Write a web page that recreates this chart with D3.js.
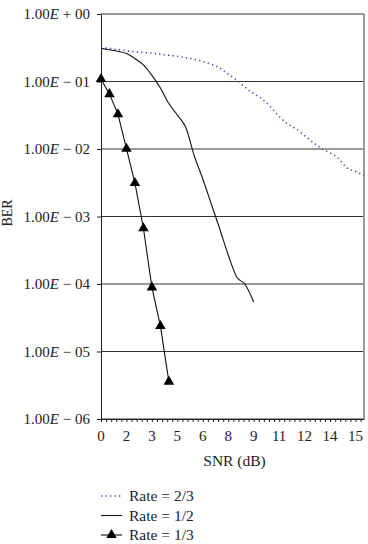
<!DOCTYPE html>
<html>
<head>
<meta charset="utf-8">
<script src="https://cdn.jsdelivr.net/npm/d3@7"></script>
<style>
  body { margin:0; background:#fff; }
  text { font-family:"Liberation Serif", "DejaVu Serif", serif; fill:#222; }
</style>
</head>
<body>
<div id="berContainer"></div>
<script>

// --------- data
var rate23Snr = [0,1,2,3,4,5,6,7,7.5,8,8.5,9,9.5,10,10.5,11,11.5,12,12.5,13,13.5,14,14.5,15,15.5];
var rate23Ber = [0.319,0.298,0.275,0.263,0.245,0.225,0.198,0.158,0.129,0.105,0.0815,0.0664,0.0551,0.0419,
                 0.0303,0.0235,0.0198,0.0158,0.0125,0.0102,0.00873,0.00723,0.00523,0.00464,0.00405];

var rate12Snr = [0,0.5,1,1.5,2,2.5,3,3.5,4,4.5,5,5.5,6,6.5,7,7.5,8,8.5,9];
var rate12Ber = [0.31,0.295,0.28,0.26,0.219,0.176,0.123,0.08,0.0472,0.0319,0.0208,0.00787,0.0036,
                 0.00153,6.53e-4,2.69e-4,1.27e-4,9.85e-5,5.41e-5];

var rate13Snr = [0,0.5,1,1.5,2,2.5,3,3.5,4];
var rate13Ber = [0.109,0.065,0.0327,0.0101,0.00313,6.7e-4,8.9e-5,2.39e-5,3.57e-6];

var yTickValues = [1,1e-1,1e-2,1e-3,1e-4,1e-5,1e-6];
var yTickLabels = ["1.00E + 00","1.00E \u2212 01","1.00E \u2212 02","1.00E \u2212 03",
                   "1.00E \u2212 04","1.00E \u2212 05","1.00E \u2212 06"];
var xTickValues = [0,1.5,3,4.5,6,7.5,9,10.5,12,13.5,15];
var xTickLabels = ["0","2","3","5","6","8","9","11","12","14","15"];

var legendLabels = ["Rate = 2/3","Rate = 1/2","Rate = 1/3"];

var margin = { left:101, right:4, top:14, bottom:125 };
var w = 368 - margin.left - margin.right;
var h = 544 - margin.top - margin.bottom;

var svg = d3.select("#berContainer")
            .append("svg")
            .attr("width", w + margin.left + margin.right)
            .attr("height", h + margin.top + margin.bottom);

var g = svg.append("g")
            .attr("transform", "translate(" + margin.left + "," + margin.top + ")");

var xScale = d3.scaleLinear()
    .domain([0, 15.5])
    .range([0, w]);

var yScale = d3.scaleLog()
    .domain([1e-6, 1])
    .range([h, 0]);

// --------- grid lines
g.selectAll(".grid")
    .data(yTickValues)
    .enter().append("line")
    .attr("class","grid")
    .attr("x1", 0)
    .attr("x2", w)
    .attr("y1", function(d) { return yScale(d); })
    .attr("y2", function(d) { return yScale(d); })
    .attr("stroke","#333")
    .attr("stroke-width",1);

// right border
g.append("line")
    .attr("x1", w).attr("x2", w)
    .attr("y1", 0).attr("y2", h)
    .attr("stroke","#999")
    .attr("stroke-width",2);

// --------- Y axis
var yAxis = d3.axisLeft(yScale)
    .tickValues(yTickValues)
    .tickSize(4)
    .tickSizeOuter(0)
    .tickFormat("");

var yAxisGroup = g.append("g").attr("class","y axis").call(yAxis);
yAxisGroup.select(".domain").attr("stroke","#222");
yAxisGroup.selectAll(".tick line").attr("stroke","#222");

yAxisGroup.selectAll(".tick").each(function(d, i) {
    var parts = yTickLabels[i].split("E");
    var t = d3.select(this).append("text")
        .attr("x", -11)
        .attr("dy", "0.32em")
        .attr("text-anchor","end")
        .attr("font-size", 15)
        .style("fill","#222")
        .style("white-space","pre");
    t.append("tspan").text(parts[0]);
    t.append("tspan").attr("font-style","italic").text("E");
    t.append("tspan").text(parts[1]);
});

// --------- X axis
var xMinor = d3.range(0, 15.45, 0.3);

var xAxis = d3.axisBottom(xScale)
    .tickValues(xMinor)
    .tickSize(3)
    .tickSizeOuter(0)
    .tickFormat("");

var xAxisGroup = g.append("g")
    .attr("class","x axis")
    .attr("transform","translate(0," + h + ")")
    .call(xAxis);
xAxisGroup.select(".domain").attr("stroke","#222");
xAxisGroup.selectAll(".tick line").attr("stroke","#222");

xAxisGroup.selectAll(".xlabel")
    .data(xTickValues)
    .enter().append("text")
    .attr("class","xlabel")
    .attr("x", function(d) { return xScale(d); })
    .attr("y", 21.5)
    .attr("text-anchor","middle")
    .attr("font-size", 15)
    .style("fill","#222")
    .text(function(d, i) { return xTickLabels[i]; });

// --------- axis labels
svg.append("text")
    .attr("x", margin.left + w/2 + 2)
    .attr("y", 465.5)
    .attr("text-anchor","middle")
    .attr("font-size", 15.5)
    .text("SNR (dB)");

svg.append("text")
    .attr("transform","rotate(-90)")
    .attr("x", -213)
    .attr("y", 12)
    .attr("text-anchor","middle")
    .attr("font-size", 14)
    .text("BER");

// --------- lines
var line23 = d3.line()
    .x(function(d, i) { return xScale(rate23Snr[i]); })
    .y(function(d) { return yScale(d); })
    .curve(d3.curveMonotoneX);

var line12 = d3.line()
    .x(function(d, i) { return xScale(rate12Snr[i]); })
    .y(function(d) { return yScale(d); })
    .curve(d3.curveMonotoneX);

var line13 = d3.line()
    .x(function(d, i) { return xScale(rate13Snr[i]); })
    .y(function(d) { return yScale(d); });

g.append("path")
    .datum(rate23Ber)
    .attr("d", line23)
    .attr("fill","none")
    .attr("stroke","#4a4aa8")
    .attr("stroke-width",1.6)
    .attr("stroke-dasharray","1.3,3.2");

g.append("path")
    .datum(rate12Ber)
    .attr("d", line12)
    .attr("fill","none")
    .attr("stroke","#111")
    .attr("stroke-width",1.1);

g.append("path")
    .datum(rate13Ber)
    .attr("d", line13)
    .attr("fill","none")
    .attr("stroke","#111")
    .attr("stroke-width",1.1);

var tri = d3.symbol().type(d3.symbolTriangle).size(48);

g.selectAll(".tri")
    .data(rate13Ber)
    .enter().append("path")
    .attr("class","tri")
    .attr("d", tri)
    .attr("transform", function(d, i) {
        return "translate(" + xScale(rate13Snr[i]) + "," + yScale(d) + ")";
    })
    .attr("fill","#000");

//-----Legends
var legend = svg.append("g")
    .attr("transform","translate(101,496)");

legendLabels.forEach(function(lab, i) {
    var row = legend.append("g").attr("transform","translate(0," + (i * 19.5) + ")");
    var ln = row.append("line")
        .attr("x1", 0).attr("x2", 21)
        .attr("y1", 0).attr("y2", 0)
        .attr("stroke", i === 0 ? "#4a4aa8" : "#111")
        .attr("stroke-width", i === 0 ? 1.6 : 1.1);
    if (i === 0) ln.attr("stroke-dasharray","1.3,3.2");
    if (i === 2) {
        row.append("path").attr("d", tri).attr("transform","translate(10.5,0)").attr("fill","#000");
    }
    row.append("text")
        .attr("x", 28)
        .attr("y", 5)
        .attr("font-size", 15.5)
        .text(lab);
});

</script>
</body>
</html>
